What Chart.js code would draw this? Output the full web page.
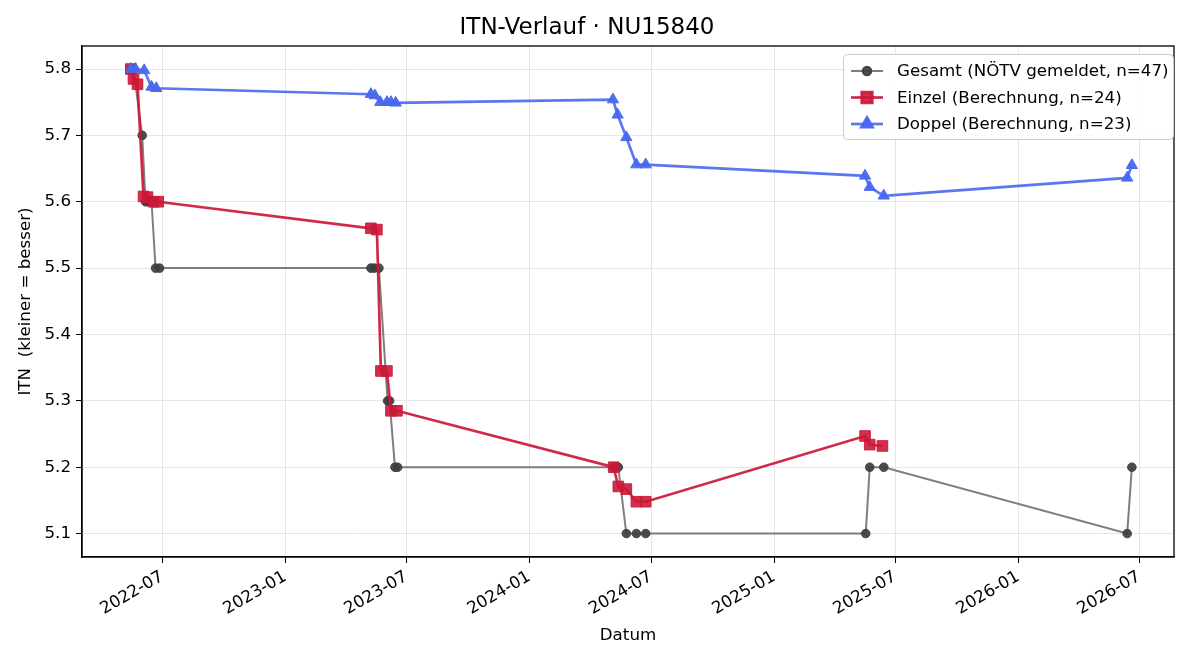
<!DOCTYPE html>
<html>
<head>
<meta charset="utf-8">
<script src="https://cdn.jsdelivr.net/npm/chart.js@4/dist/chart.umd.min.js"></script>
<style>
  html, body { margin: 0; padding: 0; background: #fff; }
</style>
</head>
<body>
<canvas id="chart" width="1200" height="660"></canvas>
<script>
// Werte
const gesamtDates = ['2022-05-15', '2022-05-19', '2022-06-01', '2022-06-06', '2022-06-10', '2022-06-15',
  '2022-06-21', '2022-06-27', '2023-05-09', '2023-05-14', '2023-05-21', '2023-06-03', '2023-06-06',
  '2023-06-14', '2023-06-18', '2024-05-06', '2024-05-13', '2024-05-25', '2024-06-09', '2024-06-23',
  '2025-05-18', '2025-05-24', '2025-06-14', '2026-06-13', '2026-06-20'];
const gesamtItn = [5.8, 5.8, 5.7, 5.6, 5.6, 5.6, 5.5, 5.5, 5.5, 5.5, 5.5, 5.3, 5.3,
  5.2, 5.2, 5.2, 5.2, 5.1, 5.1, 5.1, 5.1, 5.2, 5.2, 5.1, 5.2];

const einzelDates = ['2022-05-15', '2022-05-19', '2022-05-25', '2022-06-03', '2022-06-09', '2022-06-18',
  '2022-06-25', '2023-05-09', '2023-05-18', '2023-05-24', '2023-06-02', '2023-06-08', '2023-06-17',
  '2024-05-06', '2024-05-13', '2024-05-25', '2024-06-09', '2024-06-23', '2025-05-17', '2025-05-24',
  '2025-06-12'];
const einzelItn = [5.800, 5.785, 5.777, 5.608, 5.607, 5.600, 5.600, 5.560, 5.558, 5.345, 5.345, 5.285,
  5.285, 5.200, 5.171, 5.167, 5.148, 5.148, 5.247, 5.234, 5.232];

const doppelDates = ['2022-05-15', '2022-05-22', '2022-06-04', '2022-06-15', '2022-06-22', '2023-05-09',
  '2023-05-15', '2023-05-23', '2023-06-02', '2023-06-08', '2023-06-15', '2024-05-05', '2024-05-12',
  '2024-05-25', '2024-06-09', '2024-06-23', '2025-05-17', '2025-05-24', '2025-06-14', '2026-06-13',
  '2026-06-20'];
const doppelItn = [5.800, 5.800, 5.798, 5.773, 5.771, 5.762, 5.760, 5.750, 5.750, 5.750, 5.749, 5.754,
  5.731, 5.697, 5.656, 5.656, 5.639, 5.622, 5.609, 5.636, 5.655];

const yTicks = [5.1, 5.2, 5.3, 5.4, 5.5, 5.6, 5.7, 5.8];
const xRange = ['2022-03-03', '2026-08-22'];
const yRange = [5.0647, 5.8347];

const FONT = 'DejaVu Sans';
Chart.defaults.font.family = FONT;
Chart.defaults.font.size = 16.7;
Chart.defaults.color = '#000';

const toMs = s => Date.parse(s + 'T00:00:00Z');
const toPoints = (dates, vals) => dates.map((d, i) => ({ x: toMs(d), y: vals[i] }));

const series = [
  { label: 'Gesamt (NÖTV gemeldet, n=47)', data: toPoints(gesamtDates, gesamtItn),
    line: 'rgba(105,105,105,0.85)', fill: 'rgba(62,62,62,0.92)', style: 'circle', r: 4.3, w: 2, order: 3 },
  { label: 'Einzel (Berechnung, n=24)', data: toPoints(einzelDates, einzelItn),
    line: 'rgba(204,24,56,0.92)', fill: 'rgba(204,24,56,0.9)', style: 'rect', r: 7.5, w: 2.7, order: 2 },
  { label: 'Doppel (Berechnung, n=23)', data: toPoints(doppelDates, doppelItn),
    line: 'rgba(72,104,238,0.9)', fill: 'rgba(72,104,238,0.95)', style: 'triangle', r: 6.5, w: 2.7, order: 1 }
];

// Rahmen um den Plotbereich
const frame = {
  id: 'frame',
  afterDatasetsDraw(chart) {
    const { ctx, chartArea: a } = chart;
    ctx.save();
    ctx.strokeStyle = '#000';
    ctx.lineWidth = 1.3;
    ctx.strokeRect(a.left, a.top, a.right - a.left, a.bottom - a.top);
    ctx.restore();
  }
};

// Legende im matplotlib-Stil (Linie + Marker)
const legendBox = {
  id: 'legendBox',
  afterDraw(chart) {
    const { ctx, chartArea: a } = chart;
    const w = 330, h = 85;
    const x0 = a.right - w - 1, y0 = a.top + 8;
    ctx.save();
    ctx.fillStyle = 'rgba(255,255,255,0.85)';
    ctx.strokeStyle = '#cccccc';
    ctx.lineWidth = 1;
    ctx.beginPath();
    if (ctx.roundRect) ctx.roundRect(x0 + 0.5, y0 + 0.5, w, h, 4);
    else ctx.rect(x0 + 0.5, y0 + 0.5, w, h);
    ctx.fill();
    ctx.stroke();
    ctx.font = '16.7px "' + FONT + '"';
    ctx.textBaseline = 'middle';
    series.forEach((s, i) => {
      const y = y0 + 17 + i * 26.5;
      ctx.strokeStyle = s.line;
      ctx.lineWidth = s.w;
      ctx.beginPath();
      ctx.moveTo(x0 + 8, y);
      ctx.lineTo(x0 + 40, y);
      ctx.stroke();
      ctx.fillStyle = s.fill;
      ctx.strokeStyle = s.fill;
      Chart.helpers.drawPoint(ctx, { pointStyle: s.style, radius: s.r, borderWidth: 1, rotation: 0 }, x0 + 24, y);
      ctx.fillStyle = '#000';
      ctx.fillText(s.label, x0 + 54, y + 1);
    });
    ctx.restore();
  }
};

new Chart(document.getElementById('chart'), {
  type: 'line',
  data: {
    datasets: series.map(s => ({
      label: s.label,
      data: s.data,
      order: s.order,
      borderColor: s.line,
      borderWidth: s.w,
      backgroundColor: s.fill,
      pointBackgroundColor: s.fill,
      pointBorderColor: s.fill,
      pointBorderWidth: 1,
      pointStyle: s.style,
      pointRadius: s.r,
      pointHoverRadius: s.r,
      tension: 0,
      fill: false
    }))
  },
  options: {
    responsive: false,
    animation: false,
    devicePixelRatio: 1,
    layout: { padding: { top: 0, right: 26, bottom: 0, left: 0 } },
    plugins: {
      legend: { display: false },
      tooltip: { enabled: false },
      title: {
        display: true,
        text: 'ITN-Verlauf · NU15840',
        color: '#000',
        font: { size: 23, weight: 'normal' },
        padding: { top: 14, bottom: 4.4 }
      }
    },
    scales: {
      x: {
        type: 'linear',
        min: toMs(xRange[0]),
        max: toMs(xRange[1]),
        afterFit: sc => { sc.height = 103; },
        afterBuildTicks: sc => {
          const ticks = [];
          const d0 = new Date(sc.min);
          for (let y = d0.getUTCFullYear(); y <= new Date(sc.max).getUTCFullYear(); y++) {
            [0, 6].forEach(m => {
              const v = Date.UTC(y, m, 1);
              if (v >= sc.min && v <= sc.max) ticks.push({ value: v });
            });
          }
          sc.ticks = ticks;
        },
        ticks: {
          autoSkip: false,
          minRotation: 30,
          maxRotation: 30,
          padding: 4,
          callback: v => new Date(v).toISOString().slice(0, 7)
        },
        grid: { color: '#e6e6e6', lineWidth: 1, tickColor: '#000', tickLength: 6 },
        border: { color: '#000', width: 1.3 },
        title: { display: true, text: 'Datum', padding: { top: 0, bottom: 14 } }
      },
      y: {
        min: yRange[0],
        max: yRange[1],
        afterFit: sc => { sc.width = 82; },
        afterBuildTicks: sc => { sc.ticks = yTicks.map(v => ({ value: v })); },
        ticks: { padding: 5, callback: v => v.toFixed(1) },
        grid: { color: '#e6e6e6', lineWidth: 1, tickColor: '#000', tickLength: 6 },
        border: { color: '#000', width: 1.3 },
        title: { display: true, text: 'ITN  (kleiner = besser)', padding: { top: 16, bottom: 8 } }
      }
    }
  },
  plugins: [frame, legendBox]
});
</script>
</body>
</html>
